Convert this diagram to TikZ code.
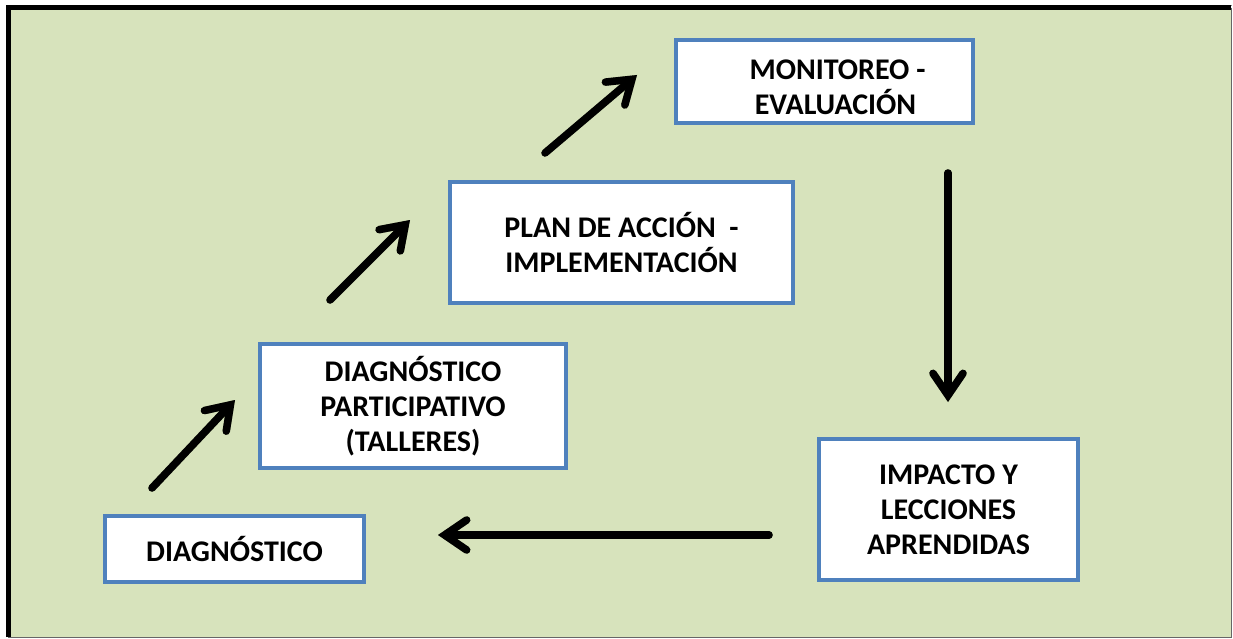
\documentclass[tikz,border=0pt]{standalone}
\usepackage{fontspec}
\setmainfont{Carlito}
\usetikzlibrary{arrows.meta}
\definecolor{bgg}{HTML}{D7E3BC}
\definecolor{boxb}{HTML}{4F81BD}
\definecolor{shad}{HTML}{8C9870}
\tikzset{
  stage/.style={draw=boxb, line width=4pt, fill=white, align=center,
    font=\bfseries\fontsize{30}{35}\selectfont, inner sep=0pt},
  flow/.style={line width=7.5pt, line cap=round,
    -{Straight Barb[length=22pt,width=30pt,line cap=round]}},
  flowshadow/.style={flow, draw=shad, shift={(2,2.5)}}
}
\begin{document}
\begin{tikzpicture}[x=1pt,y=-1pt]
\useasboundingbox (0,0) rectangle (1233,639);
\fill[white] (0,0) rectangle (1233,639);
\fill[bgg] (8,8) rectangle (1231,637);
\draw[black!60, line width=1pt] (1231,8) -- (1231,637) -- (8,637);
\draw[black!45, line width=1pt] (6,5.5) -- (1232,5.5);
\draw[black, line width=5pt] (8.5,637) -- (8.5,8) -- (1231,8);

\node[stage, minimum width=259pt, minimum height=66pt] (diag) at (234.5,549) {DIAGNÓSTICO};
\node[stage, minimum width=306pt, minimum height=124pt] (part) at (413,406) {\rule{0pt}{26pt}DIAGNÓSTICO\\PARTICIPATIVO\\(TALLERES)};
\node[stage, minimum width=343pt, minimum height=121pt] (plan) at (621.5,242.5) {PLAN DE ACCIÓN~~-\\IMPLEMENTACIÓN};
\node[stage, minimum width=297pt, minimum height=83pt] (moni) at (824.5,81.5) {\hspace*{26pt}\rule{0pt}{32pt}MONITOREO -\\\hspace*{22pt}EVALUACIÓN};
\node[stage, minimum width=259pt, minimum height=141pt] (impa) at (948.5,509.5) {IMPACTO Y\\LECCIONES\\APRENDIDAS};

\coordinate (a1s) at (152,488); \coordinate (a1e) at (235,400);
\coordinate (a2s) at (330,300); \coordinate (a2e) at (410,220);
\coordinate (a3s) at (545,153); \coordinate (a3e) at (637,75);
\coordinate (a4s) at (948,173); \coordinate (a4e) at (948,402);
\coordinate (a5s) at (769,535); \coordinate (a5e) at (438,535);

\foreach \s/\e in {a1s/a1e,a2s/a2e,a3s/a3e,a4s/a4e,a5s/a5e}{
  \draw[flowshadow] (\s) -- (\e);
  \draw[flow] (\s) -- (\e);
}
\end{tikzpicture}
\end{document}
